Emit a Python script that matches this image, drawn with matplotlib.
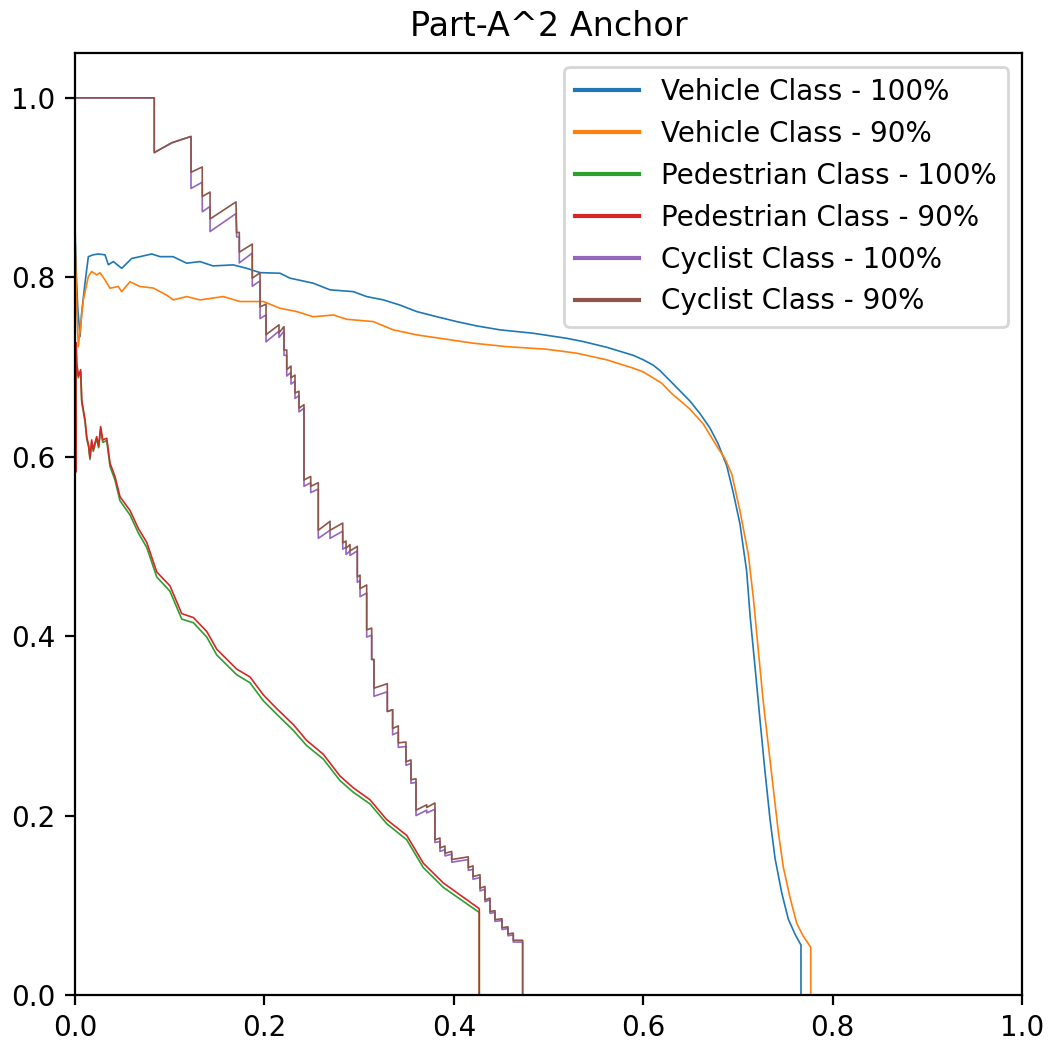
import matplotlib
matplotlib.use("Agg")
import matplotlib.pyplot as plt

# ---------------- data (recall, precision) ----------------
veh100_r = [0.0, 0.0015, 0.003, 0.0053, 0.007, 0.0106, 0.0141, 0.019, 0.0246, 0.0317,
            0.0352, 0.0405, 0.0493, 0.0599, 0.0687, 0.081, 0.0898, 0.1035, 0.1179, 0.132,
            0.1457, 0.1672, 0.1813, 0.1954, 0.2165, 0.2271, 0.2516, 0.2693, 0.2939, 0.3079,
            0.3256, 0.3432, 0.3608, 0.3784, 0.4031, 0.4242, 0.4488, 0.4840, 0.5192, 0.5368,
            0.5614, 0.5895, 0.6001, 0.6107, 0.6177, 0.6318, 0.6494, 0.66, 0.6705, 0.6793,
            0.6882, 0.6951, 0.7022, 0.7093, 0.7128, 0.7181, 0.7233, 0.7286, 0.7339, 0.7392,
            0.7463, 0.7532, 0.7603, 0.7666, 0.7666]
veh100_p = [0.857, 0.80, 0.765, 0.734, 0.76, 0.794, 0.823, 0.825, 0.826, 0.825,
            0.814, 0.8175, 0.810, 0.821, 0.823, 0.826, 0.823, 0.823, 0.8157, 0.8175,
            0.8127, 0.8138, 0.810, 0.8052, 0.8045, 0.799, 0.7934, 0.786, 0.784, 0.7785,
            0.7748, 0.769, 0.7618, 0.757, 0.7506, 0.7458, 0.7414, 0.7376, 0.732, 0.7283,
            0.722, 0.713, 0.708, 0.702, 0.696, 0.681, 0.662, 0.648, 0.632, 0.614,
            0.590, 0.560, 0.525, 0.472, 0.4236, 0.3654, 0.307, 0.2493, 0.1961, 0.1525,
            0.1138, 0.0847, 0.0678, 0.0557, 0.0]

veh90_r = [0.0, 0.002, 0.0035, 0.0088, 0.0141, 0.0176, 0.0229, 0.0264, 0.0317, 0.037,
           0.0457, 0.0493, 0.058, 0.0687, 0.0827, 0.0969, 0.1038, 0.1179, 0.132, 0.1566,
           0.1742, 0.1988, 0.2165, 0.2341, 0.2516, 0.2728, 0.2869, 0.315, 0.3361, 0.3608,
           0.3854, 0.4206, 0.4559, 0.4981, 0.5298, 0.5615, 0.5895, 0.6001, 0.6195, 0.6301,
           0.6494, 0.6635, 0.6776, 0.6864, 0.6935, 0.7022, 0.711, 0.7163, 0.7215, 0.7268,
           0.7321, 0.7374, 0.7427, 0.7479, 0.755, 0.7621, 0.7691, 0.7769, 0.7769]
veh90_p = [0.845, 0.76, 0.7227, 0.775, 0.8008, 0.8064, 0.8027, 0.805, 0.797, 0.7878,
           0.7897, 0.784, 0.795, 0.7897, 0.788, 0.780, 0.7748, 0.7785, 0.7748, 0.7785,
           0.773, 0.773, 0.7655, 0.7618, 0.756, 0.758, 0.7532, 0.7506, 0.7414, 0.7358,
           0.732, 0.7265, 0.7227, 0.7198, 0.7154, 0.708, 0.6987, 0.6945, 0.682, 0.6705,
           0.653, 0.6364, 0.612, 0.5977, 0.5808, 0.5396, 0.4912, 0.4428, 0.3847, 0.3266,
           0.2784, 0.23, 0.1815, 0.1428, 0.1089, 0.0799, 0.0654, 0.0533, 0.0]

ped_r = [0.0, 0.0008, 0.0012, 0.0018, 0.0035, 0.006, 0.0071, 0.0106, 0.0124, 0.0145,
         0.0158, 0.0176, 0.0193, 0.021, 0.0229, 0.025, 0.0271, 0.0293, 0.0335, 0.037,
         0.0422, 0.0475, 0.0581, 0.0669, 0.0757, 0.0863, 0.1003, 0.1127, 0.125, 0.1391,
         0.1497, 0.1707, 0.1848, 0.1988, 0.2130, 0.2305, 0.2446, 0.2622, 0.2798, 0.2939,
         0.3115, 0.3291, 0.3503, 0.3678, 0.3889, 0.4065, 0.4269, 0.4269]
ped90_p = [0.70, 0.583, 0.727, 0.705, 0.69, 0.697, 0.663, 0.641, 0.622, 0.612,
           0.5987, 0.6187, 0.6076, 0.615, 0.6224, 0.612, 0.6336, 0.6187, 0.6206, 0.5928,
           0.578, 0.5555, 0.540, 0.520, 0.5046, 0.4716, 0.456, 0.4251, 0.4207, 0.4052,
           0.3854, 0.3633, 0.3545, 0.3346, 0.3192, 0.3015, 0.2838, 0.2683, 0.2441, 0.2309,
           0.2176, 0.1955, 0.1779, 0.1469, 0.1249, 0.1116, 0.0962, 0.0]
ped100_p = [0.70, 0.583, 0.725, 0.703, 0.688, 0.695, 0.661, 0.639, 0.620, 0.610,
            0.597, 0.616, 0.606, 0.613, 0.620, 0.610, 0.631, 0.616, 0.618, 0.589,
            0.574, 0.551, 0.535, 0.515, 0.499, 0.466, 0.450, 0.419, 0.415, 0.399,
            0.379, 0.357, 0.348, 0.328, 0.313, 0.295, 0.278, 0.263, 0.239, 0.226,
            0.213, 0.191, 0.173, 0.142, 0.120, 0.107, 0.092, 0.0]

cyc_r = [0.0, 0.0837, 0.0837, 0.1024, 0.1225, 0.1225, 0.1344, 0.1344, 0.1426, 0.1426,
         0.1700, 0.1707, 0.1735, 0.1735, 0.1872, 0.1872, 0.1954, 0.1954, 0.2017, 0.2017,
         0.2154, 0.2154, 0.2207, 0.2207, 0.2236, 0.2236, 0.2281, 0.2281, 0.2323, 0.2323,
         0.2365, 0.2365, 0.2418, 0.2418, 0.2489, 0.2489, 0.2569, 0.2569, 0.2693, 0.2693,
         0.2827, 0.2827, 0.2862, 0.2862, 0.2904, 0.2904, 0.2981, 0.2981, 0.3010, 0.3010,
         0.3080, 0.3080, 0.3133, 0.3133, 0.3157, 0.3157, 0.3298, 0.3298, 0.3354, 0.3354,
         0.3414, 0.3414, 0.3495, 0.3495, 0.3548, 0.3548, 0.3601, 0.3601, 0.3714, 0.3714,
         0.3801, 0.3801, 0.3854, 0.3854, 0.3907, 0.3907, 0.3978, 0.3978, 0.4153, 0.4153,
         0.4203, 0.4203, 0.4277, 0.4277, 0.4329, 0.4329, 0.4382, 0.4382, 0.4435, 0.4435,
         0.4509, 0.4509, 0.4572, 0.4572, 0.4628, 0.4628, 0.4727, 0.4727]
cyc90_p = [1.0, 1.0, 0.939, 0.950, 0.957, 0.917, 0.923, 0.890, 0.895, 0.865,
           0.884, 0.850, 0.850, 0.828, 0.837, 0.799, 0.805, 0.767, 0.770, 0.736,
           0.747, 0.738, 0.745, 0.719, 0.719, 0.697, 0.701, 0.688, 0.691, 0.671,
           0.673, 0.654, 0.658, 0.574, 0.578, 0.567, 0.571, 0.518, 0.528, 0.518,
           0.526, 0.504, 0.506, 0.498, 0.502, 0.495, 0.500, 0.466, 0.468, 0.453,
           0.457, 0.407, 0.409, 0.374, 0.374, 0.342, 0.347, 0.316, 0.318, 0.297,
           0.300, 0.281, 0.282, 0.260, 0.262, 0.240, 0.241, 0.206, 0.212, 0.209,
           0.214, 0.173, 0.175, 0.164, 0.166, 0.158, 0.160, 0.151, 0.154, 0.142,
           0.144, 0.132, 0.134, 0.119, 0.121, 0.106, 0.108, 0.093, 0.094, 0.084,
           0.085, 0.075, 0.076, 0.068, 0.069, 0.061, 0.061, 0.0]
cyc100_p = [1.0, 1.0, 0.939, 0.950, 0.957, 0.899, 0.906, 0.873, 0.879, 0.851,
            0.871, 0.845, 0.845, 0.816, 0.827, 0.790, 0.796, 0.754, 0.758, 0.728,
            0.740, 0.733, 0.740, 0.713, 0.713, 0.690, 0.694, 0.681, 0.684, 0.665,
            0.668, 0.650, 0.654, 0.567, 0.571, 0.560, 0.564, 0.509, 0.518, 0.509,
            0.517, 0.497, 0.499, 0.491, 0.495, 0.490, 0.495, 0.460, 0.462, 0.444,
            0.448, 0.399, 0.401, 0.374, 0.374, 0.333, 0.338, 0.316, 0.318, 0.290,
            0.293, 0.276, 0.277, 0.256, 0.258, 0.236, 0.237, 0.200, 0.206, 0.203,
            0.207, 0.170, 0.171, 0.160, 0.162, 0.155, 0.157, 0.148, 0.151, 0.139,
            0.140, 0.129, 0.131, 0.116, 0.118, 0.104, 0.106, 0.091, 0.092, 0.082,
            0.083, 0.073, 0.074, 0.066, 0.067, 0.059, 0.059, 0.0]

labels = ["Vehicle Class - 100%", "Vehicle Class - 90%",
          "Pedestrian Class - 100%", "Pedestrian Class - 90%",
          "Cyclist Class - 100%", "Cyclist Class - 90%"]
title = "Part-A^2 Anchor"

# ---------------- plot ----------------
fig = plt.figure(figsize=(5.26, 5.23), dpi=200)
ax = fig.add_axes([75 / 1052, 51 / 1046, 947 / 1052, 942 / 1046])

series = [(veh100_r, veh100_p), (veh90_r, veh90_p),
          (ped_r, ped100_p), (ped_r, ped90_p),
          (cyc_r, cyc100_p), (cyc_r, cyc90_p)]
for i, ((r, p), lab) in enumerate(zip(series, labels)):
    ax.plot(r, p, color=f"C{i}", lw=0.6, label=lab)

ax.set_xlim(0, 1.0)
ax.set_ylim(0, 1.05)
ax.set_title(title, fontsize=12)
leg = ax.legend(loc="upper right", fontsize=10, handlelength=2.3)
for line in leg.get_lines():
    line.set_linewidth(1.5)

fig.savefig("out.png", dpi=200)
